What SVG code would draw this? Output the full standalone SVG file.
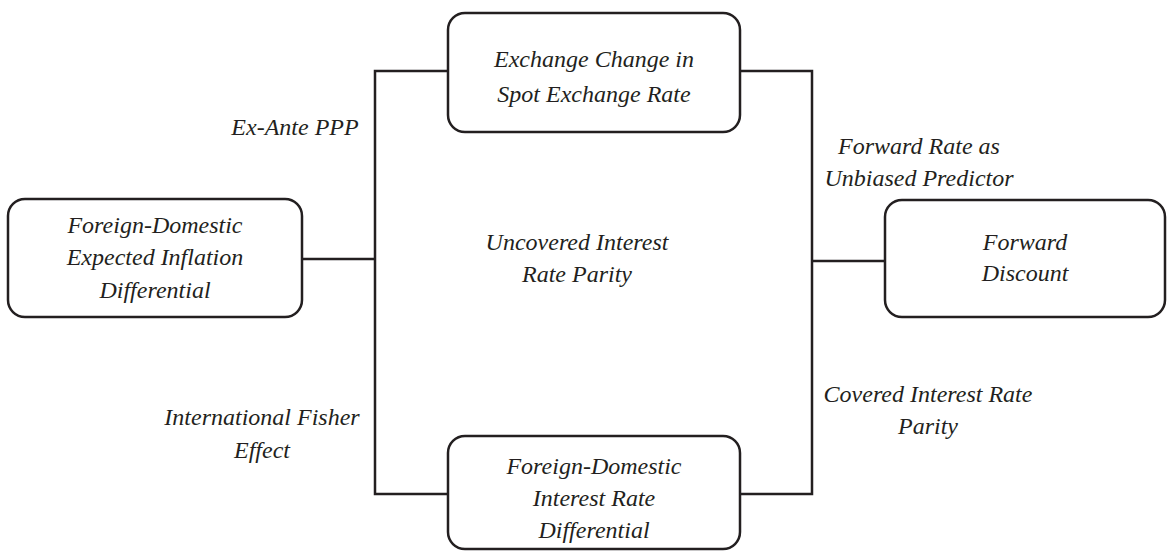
<svg xmlns="http://www.w3.org/2000/svg" width="1168" height="551" viewBox="0 0 1168 551">
<style>
.box{fill:#fff;stroke:#231f20;stroke-width:2.5}
.ln{fill:none;stroke:#231f20;stroke-width:2.5}
text{font-style:italic;font-size:24px;fill:#231f20;text-anchor:middle}
</style>
<rect width="1168" height="551" fill="#fff"/>
<g id="connectors">
<polyline class="ln" points="448,71 375,71 375,494 448,494"/>
<polyline class="ln" points="740,71 812,71 812,494 740,494"/>
<line class="ln" x1="302" y1="259" x2="375" y2="259"/>
<line class="ln" x1="812" y1="261" x2="885" y2="261"/>
</g>
<g font-family="'Liberation Serif', 'Times New Roman', serif">
<g id="node-spot">
<rect class="box" x="448" y="13" width="292" height="119" rx="17"/>
<text x="594" y="67">Exchange Change in</text>
<text x="594" y="102">Spot Exchange Rate</text>
</g>
<g id="node-inflation">
<rect class="box" x="8" y="199" width="294" height="118" rx="17"/>
<text x="155" y="233">Foreign-Domestic</text>
<text x="155" y="265">Expected Inflation</text>
<text x="155" y="298">Differential</text>
</g>
<g id="node-forward">
<rect class="box" x="885" y="200" width="280" height="117" rx="17"/>
<text x="1025" y="250">Forward</text>
<text x="1025" y="281">Discount</text>
</g>
<g id="node-interest">
<rect class="box" x="448" y="436" width="292" height="113" rx="17"/>
<text x="594" y="474">Foreign-Domestic</text>
<text x="594" y="506">Interest Rate</text>
<text x="594" y="538">Differential</text>
</g>
<g id="labels">
<text x="295" y="135">Ex-Ante PPP</text>
<text x="919" y="154">Forward Rate as</text>
<text x="919" y="186">Unbiased Predictor</text>
<text x="577" y="250">Uncovered Interest</text>
<text x="577" y="282">Rate Parity</text>
<text x="262" y="425">International Fisher</text>
<text x="262" y="458">Effect</text>
<text x="928" y="402">Covered Interest Rate</text>
<text x="928" y="434">Parity</text>
</g>
</g>
</svg>
